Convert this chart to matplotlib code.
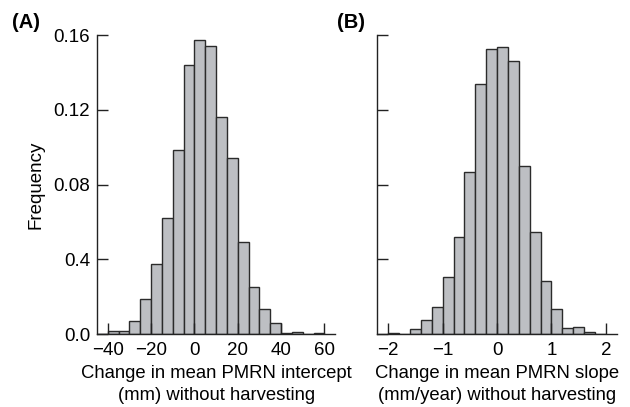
#!/usr/bin/env python3

import numpy as np
import matplotlib
matplotlib.use( 'Agg' )
import matplotlib.pyplot as plt

plt.rcParams['font.family'] = ['Liberation Sans', 'DejaVu Sans']

# panel A: change in intercept, bins of 5 mm from -45 to 60
edgesA = np.arange( -45, 61, 5 )
freqA  = [ 0.0003, 0.0016, 0.0016, 0.0069, 0.0187, 0.0373, 0.0619, 0.0987,
           0.1440, 0.1573, 0.1541, 0.1161, 0.0942, 0.0492, 0.0254, 0.0137,
           0.0060, 0.0005, 0.0014, 0.0002, 0.0004 ]

# panel B: change in slope, bins of 0.2 mm/year from -2 to 2
edgesB = np.round( np.arange( -2.0, 2.01, 0.2 ), 1 )
freqB  = [ 0.0004, 0.0, 0.0030, 0.0075, 0.0144, 0.0308, 0.0521, 0.0866,
           0.1337, 0.1525, 0.1534, 0.1461, 0.0898, 0.0548, 0.0284, 0.0135,
           0.0034, 0.0039, 0.0011, 0.0 ]

yticks      = [ 0.0, 0.04, 0.08, 0.12, 0.16 ]
ytickLabels = [ '0.0', '0.4', '0.08', '0.12', '0.16' ]

barColor  = '#bdbfc3'
edgeColor = '#2b2b2b'

fig = plt.figure( figsize = ( 6.3, 4.07 ), dpi = 100 )
axA = fig.add_axes( [ 0.154, 0.179, 0.378, 0.735 ] )
axB = fig.add_axes( [ 0.599, 0.179, 0.380, 0.735 ] )

for ax, edges, freq in [ ( axA, edgesA, freqA ), ( axB, edgesB, freqB ) ]:
    ax.bar( edges[:-1], freq, width = np.diff( edges ), align = 'edge',
            color = barColor, edgecolor = edgeColor, linewidth = 1.0 )
    ax.set_ylim( 0, 0.16 )
    ax.set_yticks( yticks )
    for s in [ 'top', 'right' ]:
        ax.spines[s].set_visible( False )
    for s in [ 'left', 'bottom' ]:
        ax.spines[s].set_linewidth( 1.0 )
        ax.spines[s].set_color( '#222222' )
    ax.tick_params( direction = 'in', length = 8, width = 1.0,
                    color = '#222222', labelsize = 13.5 )
    ax.tick_params( axis = 'x', pad = 6 )
    ax.tick_params( axis = 'y', pad = 5 )

axA.set_xlim( -45, 65 )
axA.set_xticks( [ -40, -20, 0, 20, 40, 60 ] )
axA.set_yticklabels( ytickLabels )
axA.set_ylabel( 'Frequency', fontsize = 13.5, labelpad = 6 )
axA.set_xlabel( 'Change in mean PMRN intercept\n(mm) without harvesting',
                fontsize = 13.3, labelpad = 4, linespacing = 1.35 )

axB.set_xlim( -2.2, 2.2 )
axB.set_xticks( [ -2, -1, 0, 1, 2 ] )
axB.set_yticklabels( [] )
axB.set_xlabel( 'Change in mean PMRN slope\n(mm/year) without harvesting',
                fontsize = 13.3, labelpad = 4, linespacing = 1.35 )

fig.text( 0.019, 0.968, '(A)', fontsize = 14.5, fontweight = 'bold', va = 'top' )
fig.text( 0.535, 0.968, '(B)', fontsize = 14.5, fontweight = 'bold', va = 'top' )

plt.savefig( 'out.png', dpi = 100 )
plt.close()
